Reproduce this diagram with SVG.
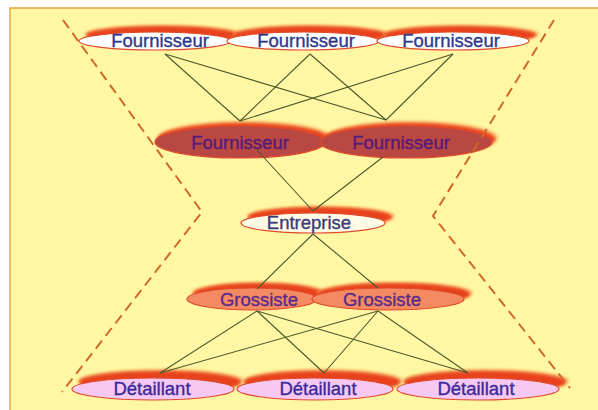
<svg xmlns="http://www.w3.org/2000/svg" width="598" height="410" viewBox="0 0 598 410">
  <defs>
    <filter id="soft" x="-20%" y="-50%" width="140%" height="200%">
      <feGaussianBlur stdDeviation="1.6"/>
    </filter>
    <style>
      .lbl { font-family: "Liberation Sans", Arial, sans-serif; font-size: 18.5px; text-anchor: middle; stroke-width: 0.35; }
      .sh { fill: #E8421C; filter: url(#soft); }
      .glow { fill: #F7A35A; filter: url(#soft); opacity: 0.8; }
      .rim { stroke: #E04A2A; stroke-width: 1.2; }
      .link { stroke: #4B5A2C; stroke-width: 1.1; fill: none; }
      .dash { stroke: #D2692A; stroke-width: 2; stroke-dasharray: 10 6; fill: none; }
      .top { fill: #FFFFFF; }
      .mid { fill: #BA4842; }
      .ent { fill: #FFFCE6; }
      .gro { fill: #F48A62; }
      .det { fill: #F6C8F2; }
      .t-top { fill: #2C3A8C; stroke: #2C3A8C; }
      .t-mid { fill: #561A78; stroke: #561A78; }
      .t-ent { fill: #3A3A7C; stroke: #3A3A7C; }
      .t-gro { fill: #5A2A8A; stroke: #5A2A8A; }
      .t-det { fill: #3A2A9A; stroke: #3A2A9A; }
    </style>
  </defs>

  <!-- page background with orange frame on the top and left -->
  <rect x="0" y="0" width="598" height="410" fill="#FFFFFF"/>
  <rect x="10" y="8" width="588" height="402" fill="#FFF7A3"/>
  <path d="M10 410 V8 H598" fill="none" stroke="#E8A33A" stroke-width="1.5"/>

  <!-- suppliers, first tier -->
  <g id="fournisseur-1">
    <ellipse class="glow" cx="163" cy="34" rx="78" ry="9"/>
    <ellipse class="sh" cx="162" cy="35" rx="76" ry="9"/>
    <ellipse class="top rim" cx="155" cy="41" rx="76" ry="9"/>
    <text class="lbl t-top" x="160" y="47">Fournisseur</text>
  </g>
  <g id="fournisseur-2">
    <ellipse class="glow" cx="311" cy="34" rx="78" ry="9"/>
    <ellipse class="sh" cx="310" cy="35" rx="76" ry="9"/>
    <ellipse class="top rim" cx="303" cy="41" rx="76" ry="9"/>
    <text class="lbl t-top" x="306" y="47">Fournisseur</text>
  </g>
  <g id="fournisseur-3">
    <ellipse class="glow" cx="461" cy="34" rx="78" ry="9"/>
    <ellipse class="sh" cx="460" cy="35" rx="76" ry="9"/>
    <ellipse class="top rim" cx="453" cy="41" rx="76" ry="9"/>
    <text class="lbl t-top" x="451" y="47">Fournisseur</text>
  </g>

  <!-- suppliers, second tier -->
  <g id="fournisseur-4">
    <ellipse class="glow" cx="245" cy="138" rx="87" ry="17"/>
    <ellipse class="sh" cx="243" cy="139" rx="86" ry="16"/>
    <ellipse class="mid rim" cx="240" cy="142" rx="85" ry="16"/>
    <text class="lbl t-mid" x="240" y="149">Fournisseur</text>
  </g>
  <g id="fournisseur-5">
    <ellipse class="glow" cx="411" cy="138" rx="87" ry="17"/>
    <ellipse class="sh" cx="409" cy="139" rx="86" ry="16"/>
    <ellipse class="mid rim" cx="406" cy="142" rx="86" ry="16"/>
    <text class="lbl t-mid" x="401" y="149">Fournisseur</text>
  </g>

  <!-- company -->
  <g id="entreprise">
    <ellipse class="glow" cx="321" cy="216" rx="74" ry="10"/>
    <ellipse class="sh" cx="320" cy="217" rx="72" ry="10"/>
    <ellipse class="ent rim" cx="313" cy="223" rx="72" ry="10"/>
    <text class="lbl t-ent" x="309" y="229">Entreprise</text>
  </g>

  <!-- wholesalers -->
  <g id="grossiste-1">
    <ellipse class="glow" cx="259" cy="293" rx="67" ry="11"/>
    <ellipse class="sh" cx="258" cy="294" rx="65" ry="11"/>
    <ellipse class="gro rim" cx="252" cy="299" rx="65" ry="11"/>
    <text class="lbl t-gro" x="259" y="306">Grossiste</text>
  </g>
  <g id="grossiste-2">
    <ellipse class="glow" cx="395" cy="293" rx="78" ry="11"/>
    <ellipse class="sh" cx="394" cy="294" rx="76" ry="11"/>
    <ellipse class="gro rim" cx="388" cy="299" rx="76" ry="11"/>
    <text class="lbl t-gro" x="382" y="306">Grossiste</text>
  </g>

  <!-- retailers -->
  <g id="detaillant-1">
    <ellipse class="glow" cx="161" cy="381" rx="83" ry="12"/>
    <ellipse class="sh" cx="160" cy="382" rx="81" ry="11"/>
    <ellipse class="det rim" cx="153" cy="389" rx="81" ry="11"/>
    <text class="lbl t-det" x="152" y="395">Détaillant</text>
  </g>
  <g id="detaillant-2">
    <ellipse class="glow" cx="323" cy="381" rx="80" ry="12"/>
    <ellipse class="sh" cx="322" cy="382" rx="78" ry="11"/>
    <ellipse class="det rim" cx="315" cy="389" rx="78" ry="11"/>
    <text class="lbl t-det" x="318" y="395">Détaillant</text>
  </g>
  <g id="detaillant-3">
    <ellipse class="glow" cx="486" cy="381" rx="83" ry="12"/>
    <ellipse class="sh" cx="485" cy="382" rx="81" ry="11"/>
    <ellipse class="det rim" cx="478" cy="389" rx="81" ry="11"/>
    <text class="lbl t-det" x="476" y="395">Détaillant</text>
  </g>

  <!-- links between tiers -->
  <g id="connectors">
    <line class="link" x1="165" y1="54" x2="240" y2="121"/>
    <line class="link" x1="165" y1="54" x2="386" y2="120"/>
    <line class="link" x1="310" y1="54" x2="240" y2="121"/>
    <line class="link" x1="310" y1="54" x2="386" y2="120"/>
    <line class="link" x1="453" y1="54" x2="240" y2="121"/>
    <line class="link" x1="453" y1="54" x2="386" y2="120"/>

    <line class="link" x1="257" y1="150" x2="313" y2="211"/>
    <line class="link" x1="383" y1="157" x2="313" y2="211"/>

    <line class="link" x1="313" y1="234" x2="257" y2="289"/>
    <line class="link" x1="313" y1="234" x2="378" y2="288"/>

    <line class="link" x1="257" y1="311" x2="160" y2="373"/>
    <line class="link" x1="257" y1="311" x2="324" y2="373"/>
    <line class="link" x1="257" y1="311" x2="468" y2="373"/>
    <line class="link" x1="378" y1="311" x2="160" y2="373"/>
    <line class="link" x1="378" y1="311" x2="324" y2="373"/>
    <line class="link" x1="378" y1="311" x2="468" y2="373"/>

    <!-- hourglass outline -->
    <polyline class="dash" points="63,20 202,212 62,392"/>
    <polyline class="dash" points="554,20 433,216 570,388"/>
  </g>
</svg>
